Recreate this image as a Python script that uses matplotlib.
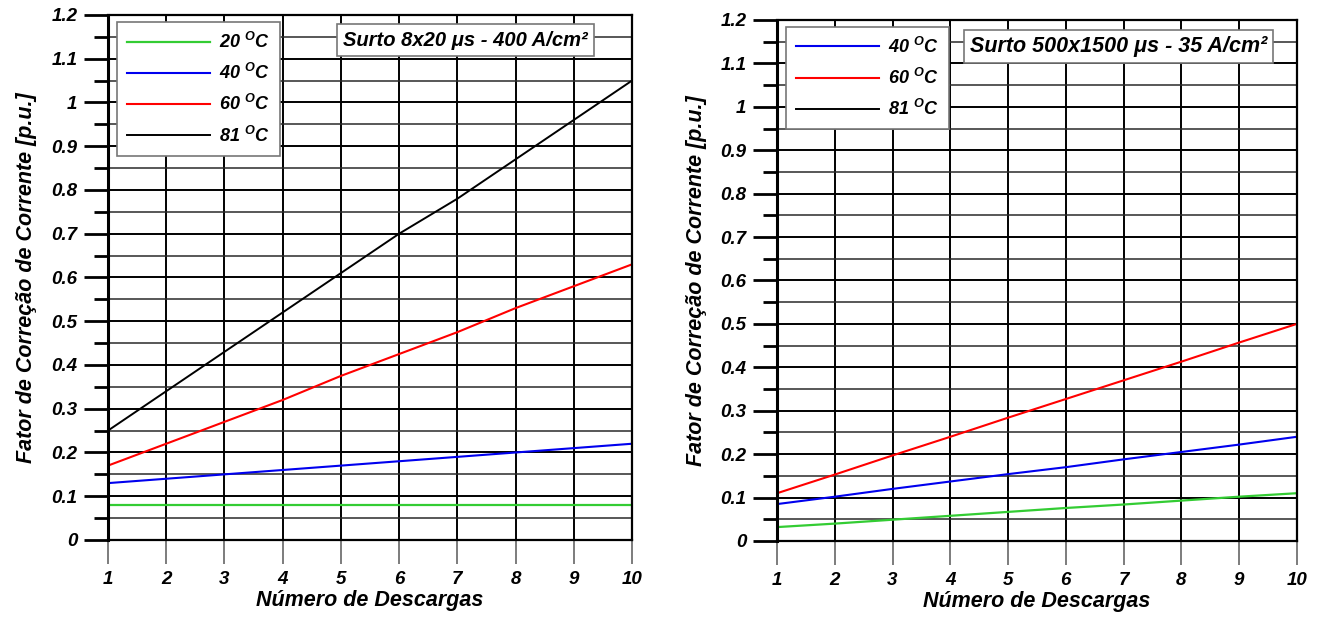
import numpy as np
import matplotlib
matplotlib.use('Agg')
import matplotlib.pyplot as plt
from matplotlib.ticker import MultipleLocator

plt.rcParams['font.family'] = ['Liberation Sans', 'DejaVu Sans']
plt.rcParams['font.weight'] = 'bold'
plt.rcParams['font.style'] = 'italic'
plt.rcParams['mathtext.fontset'] = 'custom'
plt.rcParams['mathtext.rm'] = 'Liberation Sans:bold:italic'
plt.rcParams['mathtext.it'] = 'Liberation Sans:bold:italic'
plt.rcParams['mathtext.bf'] = 'Liberation Sans:bold:italic'

# data
descargas = [1, 2, 3, 4, 5, 6, 7, 8, 9, 10]

# surto 8x20 us
a_20 = [0.08, 0.08, 0.08, 0.08, 0.08, 0.08, 0.08, 0.08, 0.08, 0.08]
a_40 = [0.13, 0.14, 0.15, 0.16, 0.17, 0.18, 0.19, 0.20, 0.21, 0.22]
a_60 = [0.17, 0.22, 0.27, 0.32, 0.375, 0.425, 0.475, 0.53, 0.58, 0.63]
a_81 = [0.25, 0.34, 0.43, 0.52, 0.61, 0.70, 0.78, 0.87, 0.96, 1.05]

# surto 500x1500 us
b_20 = [0.032, 0.040, 0.049, 0.058, 0.067, 0.076, 0.084, 0.093, 0.102, 0.11]
b_40 = [0.085, 0.102, 0.12, 0.137, 0.154, 0.17, 0.188, 0.205, 0.222, 0.24]
b_60 = [0.11, 0.153, 0.197, 0.24, 0.284, 0.327, 0.37, 0.413, 0.457, 0.50]

titulo_a = 'Surto 8x20 μs - 400 A/cm²'
titulo_b = 'Surto 500x1500 μs - 35 A/cm²'

def rot(t):
    return '%d $^{\\rm O}$C' % t

fig = plt.figure(figsize=(13.26, 6.17), dpi=100)
ax1 = fig.add_axes([0.0814, 0.1248, 0.3952, 0.8509])
ax2 = fig.add_axes([0.586, 0.1232, 0.392, 0.8444])

def estilo(ax):
    ax.set_xlim(1, 10)
    ax.set_ylim(0, 1.2)
    ax.xaxis.set_major_locator(MultipleLocator(1))
    ax.yaxis.set_minor_locator(MultipleLocator(0.05))
    ax.set_yticks([0, 0.1, 0.2, 0.3, 0.4, 0.5, 0.6, 0.7, 0.8, 0.9, 1, 1.1, 1.2])
    ax.set_yticklabels(['0', '0.1', '0.2', '0.3', '0.4', '0.5', '0.6', '0.7',
                        '0.8', '0.9', '1', '1.1', '1.2'])
    ax.grid(which='major', color='black', lw=1.4)
    ax.grid(which='minor', axis='y', color='#2a2a2a', lw=1.1)
    ax.set_axisbelow(True)
    ax.tick_params(axis='y', which='major', direction='out', length=17,
                   width=2, labelsize=13.5, pad=5)
    ax.tick_params(axis='y', which='minor', direction='out', length=10,
                   width=2)
    ax.tick_params(axis='x', which='major', direction='out', length=17,
                   width=1.2, color='#666666', labelsize=13.5, pad=5)
    for lab in ax.get_xticklabels() + ax.get_yticklabels():
        lab.set_fontweight('bold')
        lab.set_fontstyle('italic')
    for s in ax.spines.values():
        s.set_linewidth(1.6)
    ax.spines['left'].set_linewidth(2.2)
    ax.set_xlabel('Número de Descargas', fontsize=15.5, fontweight='bold',
                  fontstyle='italic', labelpad=2)
    ax.set_ylabel('Fator de Correção de Corrente [p.u.]', fontsize=15.5,
                  fontweight='bold', fontstyle='italic', labelpad=10)

estilo(ax1)
estilo(ax2)

ax1.plot(descargas, a_20, color='#33cc33', lw=1.6, label=rot(20))
ax1.plot(descargas, a_40, color='#0000ee', lw=1.5, label=rot(40))
ax1.plot(descargas, a_60, color='#ff0000', lw=1.5, label=rot(60))
ax1.plot(descargas, a_81, color='black', lw=1.4, label=rot(81))

ax2.plot(descargas, b_20, color='#33cc33', lw=1.6)
ax2.plot(descargas, b_40, color='#0000ee', lw=1.5, label=rot(40))
ax2.plot(descargas, b_60, color='#ff0000', lw=1.5, label=rot(60))
# 81 oC aparece apenas na legenda
ax2.plot([], [], color='black', lw=1.4, label=rot(81))

for ax in (ax1, ax2):
    leg = ax.legend(loc='upper left', bbox_to_anchor=(0.018, 0.987),
                    fancybox=False, framealpha=1, edgecolor='#777777',
                    handlelength=4.6, handletextpad=0.5, labelspacing=0.62,
                    borderpad=0.55, borderaxespad=0,
                    prop={'size': 13, 'weight': 'bold', 'style': 'italic'})
    leg.get_frame().set_linewidth(1.2)

ax1.text(0.682, 0.952, titulo_a, transform=ax1.transAxes, fontsize=14.5,
         fontweight='bold', fontstyle='italic', ha='center', va='center',
         bbox=dict(boxstyle='square,pad=0.32', fc='white', ec='#777777', lw=1.2))
ax2.text(0.657, 0.950, titulo_b, transform=ax2.transAxes, fontsize=15.5,
         fontweight='bold', fontstyle='italic', ha='center', va='center',
         bbox=dict(boxstyle='square,pad=0.28', fc='white', ec='#777777', lw=1.2))

fig.savefig('out.png', dpi=100)
